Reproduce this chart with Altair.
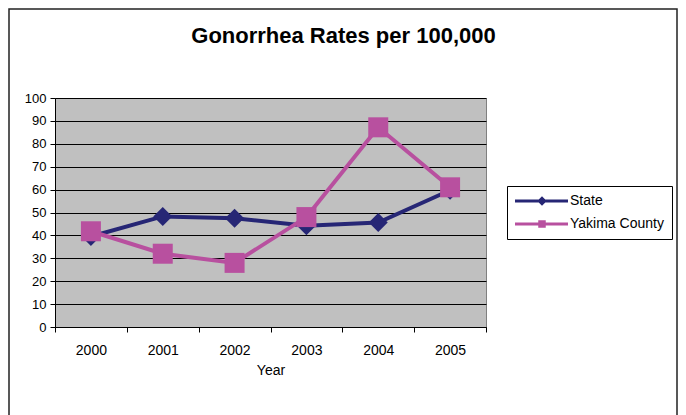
import altair as alt
import pandas as pd

years = ["2000", "2001", "2002", "2003", "2004", "2005"]
state = [39.5, 48.3, 47.5, 44.2, 45.6, 59.7]
yakima = [41.8, 32.0, 28.0, 48.0, 87.2, 61.0]
series_names = ["State", "Yakima County"]
colors = ["#262675", "#B8509F"]
y_ticks = list(range(0, 101, 10))

rows = []
for name, vals in zip(series_names, [state, yakima]):
    for yr, v in zip(years, vals):
        rows.append({"year": yr, "series": name, "rate": v})
df = pd.DataFrame(rows)

FONT = "Liberation Sans"

# legend symbols: line segment with marker (custom paths)
path_state = "M-1.4,-0.3H9.2V0.3H-1.4Z M4,-0.95L4.95,0L4,0.95L3.05,0Z"
path_yak = "M-1.4,-0.3H9.2V0.3H-1.4Z M3.25,-0.75H4.75V0.75H3.25Z"

x_enc = alt.X(
    "year:O",
    bandPosition=0.5,
    scale=alt.Scale(type="band", paddingInner=0, paddingOuter=0, domain=years),
    axis=alt.Axis(
        title="Year", labelAngle=0, tickBand="extent", tickSize=5,
        labelPadding=11, titlePadding=6, labelFontSize=14, titleFontSize=14,
        titleFontWeight="normal", labelFont=FONT, titleFont=FONT,
        domainColor="black", tickColor="black", labelColor="black",
        titleColor="black", grid=False,
    ),
)
y_enc = alt.Y(
    "rate:Q",
    scale=alt.Scale(domain=[0, 100], nice=False),
    axis=alt.Axis(
        title=None, values=y_ticks, tickSize=5, labelPadding=4,
        labelFontSize=13, labelFont=FONT, labelColor="black",
        domainColor="black", tickColor="black", grid=True,
        gridColor="black", gridWidth=1, gridOpacity=1,
    ),
)
color_scale = alt.Scale(domain=series_names, range=colors)

legend_def = dict(
    title=None, orient="none", legendX=452, legendY=88,
    strokeColor="black", fillColor="white", padding=8,
    symbolSize=100, symbolOpacity=1, symbolStrokeWidth=0,
    labelFont=FONT, labelFontSize=14, labelColor="black",
    labelOffset=41, rowPadding=9, cornerRadius=0,
)

base = alt.Chart(df)

frame = alt.Chart(pd.DataFrame({"a": [0]})).mark_rect(
    fillOpacity=0, stroke="#222222", strokeWidth=1.5
).encode(
    x=alt.value(-46), x2=alt.value(622), y=alt.value(-89), y2=alt.value(340)
)

legend_layer = base.mark_point(filled=True, opacity=0).encode(
    x=x_enc, y=y_enc,
    color=alt.Color("series:N", scale=color_scale, legend=alt.Legend(**legend_def)),
    shape=alt.Shape(
        "series:N",
        scale=alt.Scale(domain=series_names, range=[path_state, path_yak]),
        legend=alt.Legend(**legend_def),
    ),
)

line_state = base.transform_filter(alt.datum.series == "State").mark_line(strokeWidth=4).encode(
    x=x_enc, y=y_enc, color=alt.Color("series:N", scale=color_scale, legend=None)
)
pts_state = base.transform_filter(alt.datum.series == "State").mark_point(
    shape="diamond", filled=True, size=360, opacity=1
).encode(x=x_enc, y=y_enc, color=alt.Color("series:N", scale=color_scale, legend=None))

line_yak = base.transform_filter(alt.datum.series == "Yakima County").mark_line(strokeWidth=4).encode(
    x=x_enc, y=y_enc, color=alt.Color("series:N", scale=color_scale, legend=None)
)
pts_yak = base.transform_filter(alt.datum.series == "Yakima County").mark_point(
    shape="square", filled=True, size=400, opacity=1
).encode(x=x_enc, y=y_enc, color=alt.Color("series:N", scale=color_scale, legend=None))

chart = alt.layer(legend_layer, frame, line_state, pts_state, line_yak, pts_yak).properties(
    width=431,
    height=229,
    autosize="none",
    background="white",
    padding={"left": 47, "top": 90, "right": 192, "bottom": 88},
    title=alt.TitleParams(
        "Gonorrhea Rates per 100,000", fontSize=22, fontWeight="bold", font=FONT,
        anchor="middle", frame="group", dx=73, offset=-57, baseline="alphabetic",
        color="black",
    ),
).configure_view(
    fill="#C0C0C0", stroke="#808080", strokeWidth=1
)

chart.save("out.html", embed_options={"renderer": "svg", "actions": False})
